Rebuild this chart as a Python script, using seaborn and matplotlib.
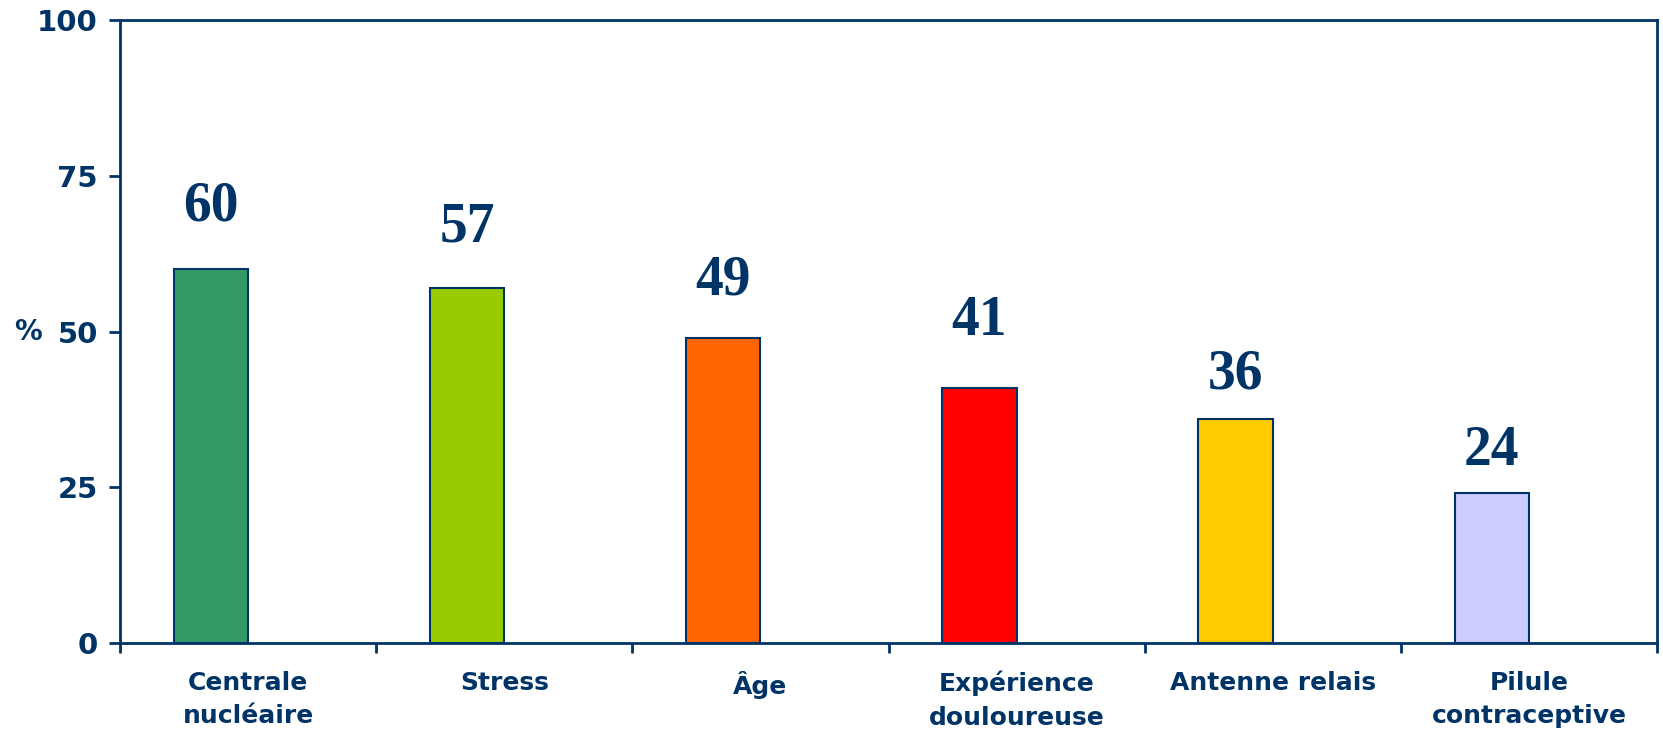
import numpy as np
import pandas as pd
import matplotlib
matplotlib.use("Agg")
import matplotlib.pyplot as plt
import seaborn as sns

# data
categories = ["Centrale\nnucléaire", "Stress", "Âge", "Expérience\ndouloureuse",
              "Antenne relais", "Pilule\ncontraceptive"]
values = [60, 57, 49, 41, 36, 24]
bar_colors = ["#339966", "#99CC00", "#FF6600", "#FF0000", "#FFCC00", "#CCCCFF"]
yticks = [0, 25, 50, 75, 100]

# label gaps above bars (labels were placed by hand in the original)
label_gap = [7.8, 7.4, 7.0, 8.4, 4.8, 4.6]

navy = "#003366"

sns.set_style("white")
plt.rcParams["font.family"] = ["DejaVu Sans"]

# second empty series so the bars sit on the left half of each category
df = pd.DataFrame({
    "cat": categories * 2,
    "val": values + [np.nan] * len(values),
    "grp": ["a"] * len(values) + ["b"] * len(values),
})

fig = plt.figure(figsize=(16.63, 7.31), dpi=100)
ax = fig.add_axes([0.0722, 0.1204, 0.9242, 0.8522])

sns.barplot(data=df, x="cat", y="val", hue="grp", hue_order=["a", "b"],
            order=categories, width=0.58, dodge=True, legend=False,
            edgecolor=navy, linewidth=1.5, ax=ax)

bars = sorted([p for p in ax.patches if p.get_height() > 0], key=lambda p: p.get_x())
for p, c, v, g in zip(bars, bar_colors, values, label_gap):
    p.set_facecolor(c)
    ax.text(p.get_x() + p.get_width() / 2, v + g, str(v), ha="center", va="baseline",
            family="Liberation Serif", fontweight="bold", fontsize=40, color=navy)

ax.set_xlim(-0.5, len(categories) - 0.5)
ax.set_ylim(0, 100)
ax.set_yticks(yticks)
ax.set_yticklabels([str(t) for t in yticks], fontsize=21, fontweight="bold", color=navy)
ax.tick_params(axis="y", direction="out", length=8, width=2, color=navy, pad=8, left=True)

ax.set_xticks(np.arange(-0.5, len(categories), 1))
ax.set_xticklabels([])
ax.set_xticks(range(len(categories)), minor=True)
ax.set_xticklabels(categories, minor=True, fontsize=18, fontweight="bold", color=navy,
                   linespacing=1.5)
ax.tick_params(axis="x", which="major", direction="out", length=7, width=2, color=navy, bottom=True)
ax.tick_params(axis="x", which="minor", length=0, pad=20)

ax.set_xlabel("")
ax.set_ylabel("%", rotation=0, fontsize=20, fontweight="bold", color=navy, va="center", ha="center")
ax.yaxis.set_label_coords(-0.06, 0.5)

for s in ax.spines.values():
    s.set_visible(True)
    s.set_color(navy)
    s.set_linewidth(2)

fig.savefig("out.png", dpi=100, facecolor="white")
